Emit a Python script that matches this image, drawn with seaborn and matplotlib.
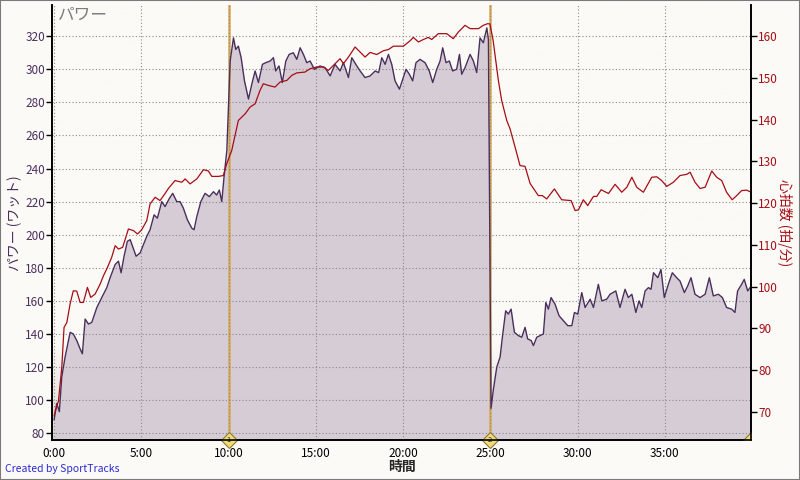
import matplotlib
matplotlib.use("Agg")
import matplotlib.pyplot as plt
import numpy as np
import pandas as pd
import seaborn as sns
from matplotlib.colors import LinearSegmentedColormap
from matplotlib.ticker import FuncFormatter, MultipleLocator

# --- data (time in minutes) ---
pw_min = [0.0, 0.06, 0.15, 0.3, 0.44, 0.63, 0.92, 1.1, 1.3, 1.49, 1.62, 1.78, 1.97, 2.16,
          2.45, 2.73, 3.02, 3.21, 3.5, 3.69, 3.84, 4.01, 4.2, 4.36, 4.7, 4.93, 5.31, 5.5,
          5.73, 5.92, 6.17, 6.36, 6.61, 6.8, 7.03, 7.22, 7.41, 7.64, 7.89, 8.02, 8.18, 8.41,
          8.65, 8.9, 9.13, 9.32, 9.47, 9.61, 9.74, 9.9, 10.09, 10.28, 10.41, 10.56, 10.72,
          10.91, 11.14, 11.33, 11.52, 11.71, 11.94, 12.13, 12.38, 12.57, 12.7, 12.89, 13.08,
          13.28, 13.47, 13.71, 13.91, 14.1, 14.29, 14.48, 14.67, 14.92, 15.24, 15.53, 15.82,
          16.1, 16.39, 16.58, 16.87, 17.06, 17.35, 17.54, 17.82, 18.11, 18.4, 18.6, 18.78,
          18.97, 19.16, 19.35, 19.54, 19.79, 19.98, 20.17, 20.36, 20.55, 20.74, 20.97, 21.26,
          21.5, 21.7, 21.93, 22.12, 22.27, 22.46, 22.65, 22.84, 23.07, 23.23, 23.36, 23.55,
          23.84, 24.03, 24.22, 24.41, 24.6, 24.8, 24.89, 25.04, 25.17, 25.37, 25.56, 25.69,
          25.88, 26.03, 26.19, 26.38, 26.61, 26.8, 26.99, 27.14, 27.34, 27.47, 27.66, 27.85,
          28.04, 28.18, 28.33, 28.48, 28.71, 28.94, 29.19, 29.44, 29.67, 29.82, 30.01, 30.24,
          30.43, 30.72, 30.91, 31.19, 31.39, 31.67, 31.86, 32.19, 32.43, 32.72, 32.91, 33.11,
          33.34, 33.52, 33.68, 33.87, 34.06, 34.21, 34.35, 34.6, 34.78, 34.97, 35.2, 35.43,
          35.68, 35.87, 36.12, 36.31, 36.5, 36.73, 37.02, 37.31, 37.55, 37.78, 38.07, 38.3,
          38.54, 38.83, 39.02, 39.17, 39.4, 39.55, 39.75, 39.95]
pw_watts = [88, 92, 98, 93, 114, 126, 141, 140, 136, 131, 128, 149, 146, 147,
            156, 162, 168, 174, 182, 184, 177, 187, 196, 197, 187, 189, 199, 203,
            212, 210, 220, 217, 222, 225, 220, 220, 216, 209, 204, 203, 211, 220,
            225, 223, 226, 224, 227, 220, 235, 251, 305, 319, 312, 314, 307,
            293, 282, 291, 299, 292, 303, 304, 305, 307, 299, 302, 292,
            305, 309, 310, 306, 313, 309, 304, 305, 300, 302, 301, 296,
            303, 299, 304, 295, 307, 302, 299, 295, 296, 299, 298, 307,
            303, 309, 303, 293, 288, 294, 300, 297, 293, 304, 306, 304,
            299, 292, 300, 305, 313, 304, 305, 299, 300, 309, 297, 301,
            309, 305, 298, 319, 316, 325, 318, 95, 106, 120, 126, 138,
            154, 152, 155, 141, 139, 138, 144, 137, 136, 133, 138, 139,
            140, 159, 155, 162, 158, 151, 148, 145, 145, 153, 152, 165,
            156, 161, 156, 170, 160, 161, 164, 166, 156, 167, 162, 164,
            153, 160, 156, 166, 168, 167, 177, 174, 179, 162, 170, 177,
            174, 172, 165, 169, 174, 164, 162, 164, 174, 163, 164, 162,
            156, 155, 153, 166, 170, 173, 166, 169]

hr_min = [0.0, 0.06, 0.25, 0.44, 0.57, 0.73, 0.92, 1.1, 1.3, 1.49, 1.68, 1.91, 2.1, 2.35,
          2.64, 2.83, 3.06, 3.3, 3.5, 3.69, 3.93, 4.26, 4.55, 4.78, 5.02, 5.31, 5.5, 5.79,
          6.07, 6.36, 6.55, 6.93, 7.32, 7.51, 7.79, 8.18, 8.56, 8.84, 9.04, 9.42, 9.7, 9.9,
          10.18, 10.56, 10.95, 11.23, 11.52, 11.8, 11.99, 12.28, 12.66, 12.95, 13.34, 13.62,
          13.91, 14.38, 14.67, 15.05, 15.43, 15.72, 16.1, 16.39, 16.58, 16.87, 17.25, 17.44,
          17.82, 18.11, 18.49, 18.87, 19.16, 19.45, 20.02, 20.4, 20.59, 20.88, 21.16, 21.45,
          21.64, 22.02, 22.5, 22.88, 23.17, 23.55, 23.84, 24.32, 24.6, 24.85, 24.98, 25.16,
          25.46, 25.65, 25.94, 26.13, 26.42, 26.7, 26.99, 27.28, 27.75, 27.98, 28.23, 28.67,
          29.09, 29.63, 29.86, 30.05, 30.33, 30.58, 30.91, 31.1, 31.35, 31.77, 32.15, 32.53,
          32.82, 33.11, 33.39, 33.77, 34.25, 34.54, 34.82, 35.11, 35.49, 35.87, 36.26, 36.45,
          36.73, 37.02, 37.31, 37.69, 37.97, 38.26, 38.54, 38.86, 39.12, 39.4, 39.69, 39.95]
hr_bpm = [69, 70, 72.6, 80.6, 90.2, 91.4, 95.9, 99, 98.9, 96.2, 96.2, 99.8, 97.4, 98.2,
          100.6, 102.6, 104.6, 107, 109.8, 109, 109.4, 113.8, 113.4, 112.6, 113.6, 115.8, 119.8, 121.4,
          120.6, 122.3, 123.5, 125.4, 125, 125.8, 124.6, 125.8, 128, 127.7, 126.4, 126.4, 126.6, 129.5,
          132.6, 139.8, 141.4, 143, 143.8, 147, 148.6, 148.2, 147.8, 149, 149.4, 150.6,
          151.2, 151.4, 152.2, 152.6, 152.6, 151.8, 153.4, 154.6, 153.4, 155, 157.4, 156.6,
          155, 156.1, 155.6, 156.5, 156.8, 157.6, 157.6, 158.9, 159.7, 158.6, 159.2, 159.7,
          159.2, 160.6, 160.6, 159.4, 161, 162.6, 161.8, 161.8, 162.6, 163, 162.9, 159,
          149.4, 144.6, 139.8, 137.8, 133.4, 129, 128.8, 124.7, 121.8, 121.8, 121, 123.4,
          120.8, 120.6, 118.2, 118.4, 120.8, 119.4, 121.6, 121.6, 123.2, 122.3, 124.5, 122.6,
          123.8, 126.2, 123.8, 122.6, 126.2, 126.3, 125.4, 124, 125, 126.6, 126.9, 127.4,
          125, 123.5, 123.8, 127.7, 126.2, 125.4, 122.6, 120.8, 121.8, 123, 123.1, 122.6]

lap_min = [10.0, 25.0]
lap_labels = ["1", "2"]
x_ticks = [0, 5, 10, 15, 20, 25, 30, 35]

power = pd.DataFrame({"min": pw_min, "watts": pw_watts})
heart = pd.DataFrame({"min": hr_min, "bpm": hr_bpm})

PURPLE = "#4a2f5c"
RED = "#a60d16"
LAP = "#d9aa55"
BG = "#fbfaf6"

sns.set_style("white")
plt.rcParams["font.family"] = ["Noto Sans CJK JP", "DejaVu Sans"]

fig = plt.figure(figsize=(8, 4.8), dpi=100, facecolor=BG)
ax = fig.add_axes([0.065, 0.083, 0.874, 0.906])
ax.set_facecolor(BG)

x0, x1 = -0.12, 39.95
p0, p1 = 75.8, 338.7
ax.set_xlim(x0, x1)
ax.set_ylim(p0, p1)

# gradient at top of the plot area
grad = np.linspace(0, 1, 256).reshape(-1, 1)
cmap = LinearSegmentedColormap.from_list(
    "bg", [(0, "#dcd8d0"), (0.22, "#fbfaf6"), (1, "#fbfaf6")])
ax.imshow(grad, cmap=cmap, aspect="auto", extent=[x0, x1, p1, p0],
          origin="upper", zorder=0)

ax.fill_between(power["min"], power["watts"], p0, color="#d5ccd6", zorder=1, lw=0)
ax.grid(True, color="#8a8a8a", ls=(0, (1, 2)), lw=0.8)
ax.set_axisbelow(False)
for gl in ax.get_xgridlines() + ax.get_ygridlines():
    gl.set_zorder(1.5)

sns.lineplot(data=power, x="min", y="watts", ax=ax, color=PURPLE, lw=1.0,
             zorder=3, estimator=None, sort=False)

ax2 = ax.twinx()
ax2.set_ylim(63.2, 167.4)
sns.lineplot(data=heart, x="min", y="bpm", ax=ax2, color=RED, lw=0.9,
             estimator=None, sort=False)

# lap markers
for t, lab in zip(lap_min, lap_labels):
    ax.axvline(t, color=LAP, lw=1.8, zorder=2.5)
    ax.plot(t, p0, marker="D", ms=8, mfc="#f2dc7a", mec="#8a7a30", mew=0.8,
            zorder=6, clip_on=False)
    ax.text(t, p0, lab, ha="center", va="center", fontsize=5.5, zorder=7)
ax.plot(x1, p0, marker="D", ms=8, mfc="#f2dc7a", mec="#8a7a30", mew=0.8,
        zorder=6, clip_on=True)

ax.set_xticks(x_ticks)
ax.xaxis.set_major_formatter(FuncFormatter(lambda v, p: f"{int(v)}:00"))
ax.yaxis.set_major_locator(MultipleLocator(20))
ax2.yaxis.set_major_locator(MultipleLocator(10))
ax.set_ylim(p0, p1)
ax2.set_ylim(63.2, 167.4)

ax.tick_params(axis="x", length=4, width=1, colors="black", labelsize=8.5, pad=1)
ax.tick_params(axis="y", length=4, width=1, color="black", labelcolor=PURPLE,
               labelsize=8.5, pad=1)
ax2.tick_params(axis="y", length=4, width=1, color="black", labelcolor=RED,
                labelsize=8.5, pad=1)

for a in (ax, ax2):
    a.spines["top"].set_visible(False)
    for s in ("left", "right", "bottom"):
        a.spines[s].set_color("black")
        a.spines[s].set_linewidth(1.2)

ax.set_xlabel("時間", fontsize=10, fontweight="bold", labelpad=0)
ax.set_ylabel("パワー (ワット)", fontsize=10, color=PURPLE, labelpad=2)
ax2.set_ylabel("心拍数 (拍/分)", fontsize=10, color=RED, rotation=270, labelpad=10)
ax2.set_xlabel("")

ax.text(0.008, 0.997, "パワー", transform=ax.transAxes, ha="left", va="top",
        fontsize=12, style="italic", color="#7c7c7c", zorder=8)
fig.text(0.006, 0.012, "Created by SportTracks", fontsize=7.5, color="#2a2ad0",
         ha="left", va="bottom")

# outer border
fig.patches.append(plt.Rectangle((0, 0), 1, 1, transform=fig.transFigure,
                                 fill=False, ec="#7a7a7a", lw=1.5))

fig.savefig("out.png", dpi=100, facecolor=BG)
